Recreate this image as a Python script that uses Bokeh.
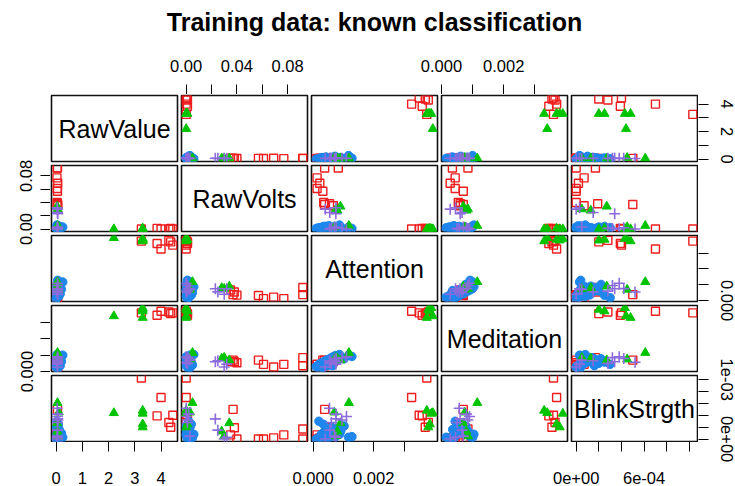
from bokeh.plotting import figure
from bokeh.layouts import column, row
from bokeh.models import Range1d, LinearAxis, FixedTicker, CustomJSTickFormatter, Spacer
from bokeh.core.properties import value
from bokeh.core.validation import silence
from bokeh.core.validation.warnings import MISSING_RENDERERS
from bokeh.embed import file_html
from bokeh.resources import INLINE

silence(MISSING_RENDERERS, True)

TITLE = "Training data: known classification"
variables = ["RawValue", "RawVolts", "Attention", "Meditation", "BlinkStrgth"]

# ---- tick values and tick labels per variable ----
ticks_rawvalue = [0, 1, 2, 3, 4]
ticks_rawvolts = [0.0, 0.02, 0.04, 0.06, 0.08]
ticks_attention = [0.0, 0.001, 0.002, 0.003]
ticks_meditation = [0.0, 0.001, 0.002, 0.003]
ticks_blink = [0.0, 0.0002, 0.0004, 0.0006, 0.0008, 0.001]

labels_rawvalue_bottom = ["0", "1", "2", "3", "4"]
labels_rawvalue_right = ["0", "", "2", "", "4"]
labels_rawvolts_top = ["0.00", "", "0.04", "", "0.08"]
labels_rawvolts_left = ["0.00", "", "", "", "0.08"]
labels_attention_bottom = ["0.000", "", "0.002", ""]
labels_attention_right = ["0.000", "", "", ""]
labels_meditation_top = ["0.000", "", "0.002", ""]
labels_meditation_left = ["0.000", "", "", ""]
labels_blink_bottom = ["0e+00", "", "", "6e-04", "", ""]
labels_blink_right = ["0e+00", "", "", "", "", "1e-03"]

# ---- class "red" (open squares) ----
red_rawvalue = [3.25, 4.00, 3.85, 4.30, 4.45, 4.37,
                0.04, 0.05, 0.03, 0.06, 0.04, 0.05, 0.04, 0.05, 0.06, 0.05]
red_rawvolts = [0.000, 0.000, 0.001, 0.000, 0.000, 0.001,
                0.092, 0.092, 0.077, 0.069, 0.061, 0.057, 0.040, 0.038, 0.035, 0.037]
red_attention = [0.00375, 0.00325, 0.00360, 0.00380, 0.00350, 0.00370,
                 0.00038, 0.00083, 0.00013, 0.00022, 0.00013, 0.00032, 0.00035, 0.00054, 0.00067, 0.00038]
red_meditation = [0.00360, 0.00370, 0.00345, 0.00365, 0.00360, 0.00355,
                  0.00035, 0.00085, 0.00044, 0.00028, 0.00044, 0.00070, 0.00054, 0.00060, 0.00061, 0.00070]
red_blink = [0.00103, 0.00070, 0.00039, 0.00028, 0.00040, 0.00020,
             0.00000, 0.00017, 0.00007, 0.00002, 0.00000, 0.00000, 0.00000, 0.00019, 0.00007, 0.00050]

# ---- class "blue" (filled circles) ----
blue_rawvalue = [0.00, 0.05, 0.10, 0.03, 0.08, 0.15, 0.04, 0.06, 0.12, 0.02, 0.07,
                 0.20, 0.05, 0.09, 0.03, 0.11, 0.04, 0.25, 0.06, 0.08, 0.03, 0.05]
blue_rawvolts = [0.001, 0.002, 0.000, 0.003, 0.001, 0.004, 0.002, 0.005, 0.001, 0.003, 0.000,
                 0.002, 0.004, 0.001, 0.006, 0.002, 0.000, 0.003, 0.001, 0.004, 0.002, 0.000]
blue_attention = [0.00010, 0.00022, 0.00027, 0.00031, 0.00036, 0.00042, 0.00044, 0.00052, 0.00057, 0.00061, 0.00066,
                  0.00072, 0.00074, 0.00081, 0.00087, 0.00091, 0.00102, 0.00117, 0.00128, 0.00034, 0.00019, 0.00064]
blue_meditation = [0.00030, 0.00015, 0.00052, 0.00024, 0.00060, 0.00035, 0.00071, 0.00040, 0.00082, 0.00050, 0.00090,
                   0.00062, 0.00098, 0.00070, 0.00104, 0.00085, 0.00078, 0.00100, 0.00092, 0.00058, 0.00044, 0.00036]
blue_blink = [0.00000, 0.00003, 0.00008, 0.00000, 0.00012, 0.00005, 0.00010, 0.00002, 0.00015, 0.00020, 0.00006,
              0.00010, 0.00004, 0.00018, 0.00008, 0.00013, 0.00022, 0.00003, 0.00004, 0.00025, 0.00030, 0.00016]

# ---- class "green" (filled triangles) ----
green_rawvalue = [2.20, 3.30, 3.30, 3.30, 3.30, 0.05, 0.05, 0.04, 0.06, 0.10]
green_rawvolts = [0.000, 0.000, 0.001, 0.000, 0.000, 0.005, 0.028, 0.034, 0.030, 0.003]
green_attention = [0.00395, 0.00380, 0.00385, 0.00390, 0.00375, 0.00118, 0.00080, 0.00090, 0.00075, 0.00070]
green_meditation = [0.00340, 0.00380, 0.00370, 0.00390, 0.00330, 0.00115, 0.00080, 0.00070, 0.00085, 0.00075]
green_blink = [0.00044, 0.00020, 0.00025, 0.00043, 0.00048, 0.00061, 0.00013, 0.00027, 0.00005, 0.00045]

# ---- class "purple" (plus signs) ----
purple_rawvalue = [0.05, 0.05, 0.06, 0.04, 0.05, 0.05, 0.06, 0.05, 0.05, 0.04]
purple_rawvolts = [0.030, 0.025, 0.023, 0.000, 0.002, 0.000, 0.001, 0.003, 0.001, 0.032]
purple_attention = [0.00040, 0.00055, 0.00075, 0.00054, 0.00076, 0.00110, 0.00095, 0.00070, 0.00060, 0.00075]
purple_meditation = [0.00028, 0.00066, 0.00060, 0.00057, 0.00080, 0.00090, 0.00085, 0.00070, 0.00050, 0.00045]
purple_blink = [0.00000, 0.00015, 0.00034, 0.00052, 0.00042, 0.00038, 0.00032, 0.00005, 0.00028, 0.00003]

classes = [
    dict(cols=[red_rawvalue, red_rawvolts, red_attention, red_meditation, red_blink],
         marker="square", color="#EE1C1C", fill=None, size=8, lw=1.4),
    dict(cols=[blue_rawvalue, blue_rawvolts, blue_attention, blue_meditation, blue_blink],
         marker="circle", color="#1E86EC", fill="#1E86EC", size=8.5, lw=1.0),
    dict(cols=[green_rawvalue, green_rawvolts, green_attention, green_meditation, green_blink],
         marker="triangle", color="#00C400", fill="#00C400", size=9, lw=1.0),
    dict(cols=[purple_rawvalue, purple_rawvolts, purple_attention, purple_meditation, purple_blink],
         marker="cross", color="#8C6CDC", fill=None, size=11, lw=1.6),
]

tick_sets = [ticks_rawvalue, ticks_rawvolts, ticks_attention, ticks_meditation, ticks_blink]
side_labels = {
    (0, "below"): labels_rawvalue_bottom, (0, "right"): labels_rawvalue_right,
    (1, "above"): labels_rawvolts_top, (1, "left"): labels_rawvolts_left,
    (2, "below"): labels_attention_bottom, (2, "right"): labels_attention_right,
    (3, "above"): labels_meditation_top, (3, "left"): labels_meditation_left,
    (4, "below"): labels_blink_bottom, (4, "right"): labels_blink_right,
}

# data ranges (R style: 4% padding)
ranges = []
for k in range(5):
    allv = [v for c in classes for v in c["cols"][k]]
    lo, hi = min(allv), max(allv)
    pad = 0.04 * (hi - lo)
    ranges.append((lo - pad, hi + pad))

FONT = "Liberation Sans"
TICK_FS = "16.5px"
FW, FH = 126, 66          # panel frame size
GAP = 2                   # half gap between panels
LEFT_W, RIGHT_W = 50, 37  # side axis strips
TITLE_H, TOP_H, BOT_H = 40, 54, 43
MID_W = 5 * FW + 8 * GAP + 2
STANDOFF = {"left": 8, "right": 12, "above": 13, "below": 20}


def add_axis(p, k, side):
    ax = LinearAxis(
        ticker=FixedTicker(ticks=tick_sets[k], minor_ticks=[]),
        formatter=CustomJSTickFormatter(args=dict(labels=side_labels[(k, side)]),
                                        code="return labels[index];"),
    )
    ax.bounds = (tick_sets[k][0], tick_sets[k][-1])
    ax.axis_line_color = None
    ax.major_tick_line_color = "black"
    ax.major_tick_line_width = 1
    ax.major_tick_out = 9
    ax.major_tick_in = 1
    ax.minor_tick_line_color = None
    ax.major_label_text_font = FONT
    ax.major_label_text_font_size = TICK_FS
    ax.major_label_text_color = "black"
    if side in ("left", "right"):
        ax.major_label_orientation = "vertical"
    ax.major_label_standoff = STANDOFF[side]
    p.add_layout(ax, side)


def blank_fig(w, h, xr, yr, bl, br, bt, bb):
    p = figure(width=w, height=h, x_range=xr, y_range=yr, toolbar_location=None,
               output_backend="svg", x_axis_location=None, y_axis_location=None,
               min_border_left=bl, min_border_right=br, min_border_top=bt, min_border_bottom=bb)
    p.grid.visible = False
    p.outline_line_color = None
    p.background_fill_color = None
    p.border_fill_color = None
    return p


def axis_fig(k, side, bl, br, bt, bb):
    if side in ("above", "below"):
        w, h = bl + FW + br, bt + 1 + bb
        p = blank_fig(w, h, Range1d(*ranges[k]), Range1d(0, 1), bl, br, bt, bb)
    else:
        w, h = bl + 1 + br, bt + FH + bb
        p = blank_fig(w, h, Range1d(0, 1), Range1d(*ranges[k]), bl, br, bt, bb)
    add_axis(p, k, side)
    return p


# ---- panel grid ----
panel_rows = []
for i in range(5):
    figs = []
    for j in range(5):
        left = 1 if j == 0 else GAP
        right = 1 if j == 4 else GAP
        top = 1 if i == 0 else GAP
        bottom = 1 if i == 4 else GAP
        p = figure(width=left + FW + right, height=top + FH + bottom,
                   x_range=Range1d(*ranges[j]), y_range=Range1d(*ranges[i]),
                   toolbar_location=None, output_backend="svg",
                   x_axis_location=None, y_axis_location=None,
                   min_border_left=left, min_border_right=right,
                   min_border_top=top, min_border_bottom=bottom)
        p.grid.visible = False
        p.outline_line_color = "#111111"
        p.outline_line_width = 1.6
        p.background_fill_color = "white"
        p.border_fill_color = "white"
        if i == j:
            xm = [(ranges[j][0] + ranges[j][1]) / 2]
            ym = [(ranges[i][0] + ranges[i][1]) / 2]
            p.text(x=xm, y=ym, text=[variables[i]], text_font=value(FONT),
                   text_font_size="25px", text_align="center", text_baseline="middle",
                   text_color="black")
        else:
            for c in classes:
                p.scatter(x=c["cols"][j], y=c["cols"][i], marker=c["marker"], size=c["size"],
                          line_color=c["color"], line_width=c["lw"], fill_color=c["fill"])
        figs.append(p)
    panel_rows.append(row(*figs))

# ---- top axes (RawVolts, Meditation) ----
top_row = row(
    Spacer(width=101, height=TOP_H),
    axis_fig(1, "above", 30, 30, TOP_H - 1, 0),
    Spacer(width=74, height=TOP_H),
    axis_fig(3, "above", 30, 30, TOP_H - 1, 0),
    Spacer(width=101, height=TOP_H),
)

# ---- bottom axes (RawValue, Attention, BlinkStrgth) ----
bottom_row = row(
    axis_fig(0, "below", 1, 30, 0, BOT_H - 1),
    Spacer(width=74, height=BOT_H),
    axis_fig(2, "below", 30, 30, 0, BOT_H - 1),
    Spacer(width=74, height=BOT_H),
    axis_fig(4, "below", 30, 1, 0, BOT_H - 1),
)

# ---- left axes (RawVolts, Meditation) ----
left_col = column(
    Spacer(width=LEFT_W, height=135),
    axis_fig(1, "left", LEFT_W - 1, 0, 30, 30),
    Spacer(width=LEFT_W, height=14),
    axis_fig(3, "left", LEFT_W - 1, 0, 30, 30),
)

# ---- right axes (RawValue, Attention, BlinkStrgth) ----
right_col = column(
    Spacer(width=RIGHT_W, height=75),
    axis_fig(0, "right", 0, RIGHT_W - 1, 20, 20),
    Spacer(width=RIGHT_W, height=24),
    axis_fig(2, "right", 0, RIGHT_W - 1, 30, 30),
    Spacer(width=RIGHT_W, height=14),
    axis_fig(4, "right", 0, RIGHT_W - 1, 30, 40),
)

# ---- title ----
tf = figure(width=MID_W, height=TITLE_H, title=TITLE, toolbar_location=None,
            output_backend="svg", x_axis_location=None, y_axis_location=None,
            min_border_left=0, min_border_right=0, min_border_top=0, min_border_bottom=0)
tf.grid.visible = False
tf.outline_line_color = None
tf.title.align = "center"
tf.title.text_font = FONT
tf.title.text_font_size = "25px"
tf.title.text_font_style = "bold"
tf.title.text_color = "black"

mid_col = column(tf, top_row, *panel_rows, bottom_row)
layout = row(left_col, mid_col, right_col)
open("out.html", "w").write(file_html(layout, INLINE))
